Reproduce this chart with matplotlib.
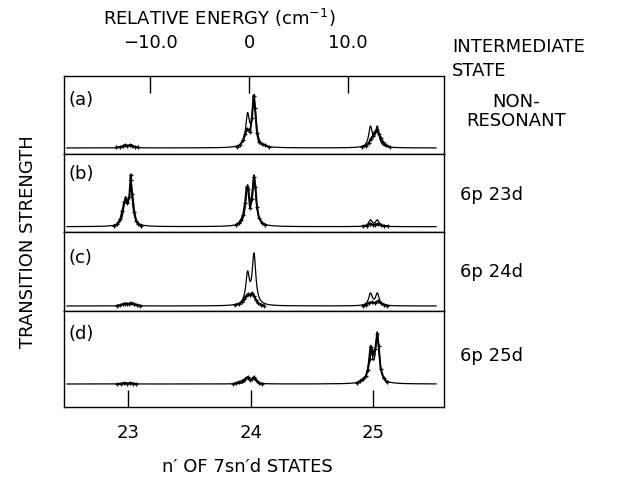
import numpy as np
import matplotlib
matplotlib.use("Agg")
import matplotlib.pyplot as plt

# --- data (energies in cm^-1, strengths in arbitrary units) ---
panel_labels = ["(a)", "(b)", "(c)", "(d)"]
state_labels = ["NON-\nRESONANT", "6p 23d", "6p 24d", "6p 25d"]

# n' positions of the 7sn'd states on the relative energy scale
n_ticks = [23, 24, 25]
n_tick_energy = [-12.22, 0.2, 12.53]
energy_ticks = [-10.0, 0.0, 10.0]
energy_ticklabels = ["\u221210.0", "0", "10.0"]

# calculated spectrum: doublet line centres and heights for each panel
line_centres = [-12.5, -11.95, -0.15, 0.5, 12.27, 12.96]
line_heights_a = [2.5, 3.0, 30.0, 50.0, 20.0, 20.0]
line_heights_b = [25.0, 36.0, 37.0, 48.0, 6.3, 6.3]
line_heights_c = [2.5, 2.5, 30.0, 50.0, 12.0, 12.0]
line_heights_d = [0.8, 0.8, 6.3, 6.3, 34.0, 49.0]
line_hwhm = 0.22

# measured points (three groups per panel: n'=23, 24, 25)
exp_a = [
    ([-13.4, -13.0, -12.7, -12.5, -12.3, -12.0, -11.8, -11.5, -11.2],
     [0.5, 1, 2, 3, 2, 3, 2, 1, 0.5]),
    ([-1.2, -0.9, -0.6, -0.4, -0.2, -0.05, 0.1, 0.3, 0.45, 0.6, 0.8, 1.0, 1.3, 1.6, 2.0],
     [1, 3, 8, 14, 19, 18, 16, 30, 52, 40, 15, 6, 4, 3, 1]),
    ([11.4, 11.8, 12.1, 12.3, 12.5, 12.7, 12.9, 13.1, 13.3, 13.5, 13.8, 14.2],
     [1, 2, 5, 9, 12, 16, 18, 14, 10, 6, 3, 1]),
]
exp_b = [
    ([-13.6, -13.3, -13.0, -12.8, -12.6, -12.45, -12.3, -12.1, -11.95, -11.95, -11.8, -11.6, -11.4, -11.2, -10.9],
     [1, 3, 8, 16, 25, 28, 24, 30, 52, 47, 33, 15, 6, 3, 1]),
    ([-1.3, -1.0, -0.8, -0.6, -0.4, -0.25, -0.1, 0.1, 0.3, 0.5, 0.65, 0.8, 1.0, 1.3, 1.6],
     [2, 4, 7, 12, 24, 40, 38, 19, 28, 50, 40, 20, 9, 4, 2]),
    ([11.5, 11.9, 12.2, 12.5, 12.7, 13.0, 13.3, 13.6, 14.0],
     [0.5, 1, 3, 2, 2, 3, 2, 1, 0.5]),
]
exp_c = [
    ([-13.3, -13.0, -12.7, -12.5, -12.3, -12.1, -11.9, -11.6, -11.3, -11.0],
     [0.5, 1, 2, 2.5, 2, 2.5, 3, 2, 1, 0.5]),
    ([-1.4, -1.0, -0.7, -0.5, -0.3, -0.1, 0.1, 0.3, 0.5, 0.7, 0.9, 1.2, 1.5],
     [1, 2, 4, 7, 10, 12, 11, 13, 10, 6, 3, 1.5, 0.5]),
    ([11.5, 11.8, 12.1, 12.4, 12.7, 13.0, 13.3, 13.6, 13.9],
     [0.5, 1.5, 3, 4, 3, 5, 3, 1.5, 0.5]),
]
exp_d = [
    ([-13.3, -12.9, -12.6, -12.3, -12.0, -11.7, -11.4],
     [0, 0.5, 1, 0.5, 1, 0.5, 0]),
    ([-1.6, -1.3, -1.0, -0.7, -0.4, -0.15, 0.1, 0.3, 0.5, 0.7, 1.0, 1.3],
     [0, 1, 2, 3, 5, 7, 4, 5, 7, 4, 1, 0]),
    ([10.9, 11.2, 11.5, 11.8, 12.0, 12.2, 12.35, 12.55, 12.75, 12.95, 13.1, 13.3, 13.6, 13.9],
     [1, 3, 5, 8, 14, 25, 37, 30, 35, 50, 38, 15, 6, 2]),
]

line_heights = [line_heights_a, line_heights_b, line_heights_c, line_heights_d]
exp_sets = [exp_a, exp_b, exp_c, exp_d]

# --- layout (pixel boxes of the four stacked panels) ---
W, H = 631, 480
left, right = 64, 444
panel_edges = [76, 153.5, 232, 311, 407]
ylims = [(-5.5, 71.5), (-5.3, 73.2), (-5.0, 74.0), (-23.0, 73.0)]
label_y = [100, 174, 258, 334]
state_y = [[102, 121], [195], [272], [356]]

FS = 13
plt.rcParams["font.family"] = ["DejaVu Sans"]

fig = plt.figure(figsize=(W / 100, H / 100), dpi=100)

energy = np.linspace(-18.4, 18.9, 3000)

for i in range(4):
    top, bot = panel_edges[i], panel_edges[i + 1]
    ax = fig.add_axes([left / W, 1 - bot / H, (right - left) / W, (bot - top) / H])
    ax.set_xlim(-18.7, 19.7)
    ax.set_ylim(*ylims[i])

    # calculated curve
    curve = np.zeros_like(energy)
    for c, h in zip(line_centres, line_heights[i]):
        curve += h / (1 + ((energy - c) / line_hwhm) ** 2)
    ax.plot(energy, curve, color="black", lw=0.9)

    # measured points
    for e, s in exp_sets[i]:
        ax.plot(e, s, color="black", lw=1.4, marker="+", ms=3.5, mew=0.9)

    ax.set_yticks([])
    ax.set_xticks([])
    for sp in ax.spines.values():
        sp.set_linewidth(1.0)

    ax.text(4 / (right - left), (bot - label_y[i]) / (bot - top), panel_labels[i],
            transform=ax.transAxes, fontsize=FS, va="center", ha="left")

    if i == 0:
        ax.tick_params(axis="x", top=True, bottom=False, labeltop=True, labelbottom=False,
                       direction="in", length=12, width=1, pad=17, labelsize=FS)
        ax.set_xticks(energy_ticks)
        ax.set_xticklabels(energy_ticklabels)
    if i == 3:
        ax.tick_params(axis="x", direction="in", length=12, width=1, pad=12, labelsize=FS)
        ax.set_xticks(n_tick_energy)
        ax.set_xticklabels([str(n) for n in n_ticks])

    lines = state_labels[i].split("\n")
    for txt, yy in zip(lines, state_y[i]):
        if len(lines) > 1:
            fig.text(516 / W, 1 - yy / H, txt, fontsize=FS, ha="center", va="center")
        else:
            fig.text(460 / W, 1 - yy / H, txt, fontsize=FS, ha="left", va="center")

fig.text(103 / W, 1 - 18 / H, "RELATIVE ENERGY (cm$^{-1}$)", fontsize=FS,
         ha="left", va="center")
fig.text(452 / W, 1 - 47 / H, "INTERMEDIATE", fontsize=FS, ha="left", va="center")
fig.text(452 / W, 1 - 71 / H, "STATE", fontsize=FS, ha="left", va="center")
fig.text(28 / W, 1 - 242 / H, "TRANSITION STRENGTH", fontsize=FS,
         rotation=90, ha="center", va="center")
fig.text(247 / W, 1 - 467 / H, "n\u2032 OF 7sn\u2032d STATES", fontsize=FS,
         ha="center", va="center")

fig.savefig("out.png", dpi=100)
